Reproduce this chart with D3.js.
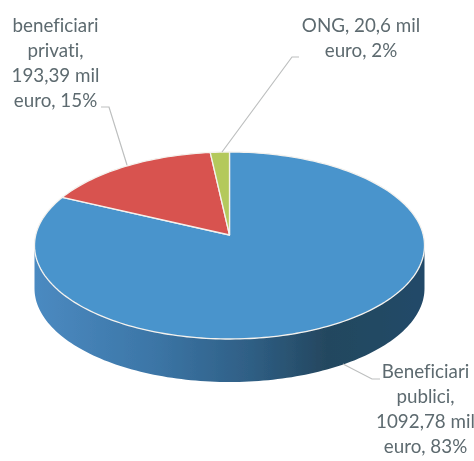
<!DOCTYPE html>
<html>
<head>
<meta charset="utf-8">
<script src="https://cdn.jsdelivr.net/npm/d3@7"></script>
<style>
  html, body { margin: 0; padding: 0; background: #fff; overflow: hidden; }
  svg { display: block; }
</style>
</head>
<body>
<div id="chart"></div>
<script>
// ---- Data ----
const categories = ["Beneficiari publici", "beneficiari privati", "ONG"];
const values = [1092.78, 193.39, 20.6];
const colors = ["#4a94cc", "#d8524f", "#b4c95b"];
const labelLines = [
  ["Beneficiari", "publici,", "1092,78 mil", "euro, 83%"],
  ["beneficiari", "privati,", "193,39 mil", "euro, 15%"],
  ["ONG, 20,6 mil", "euro, 2%"]
];

const width = 474, height = 461;

// tilted pie: ellipse for the rim, apex sits a bit above the centre
const cx = 229.5, cy = 245.5, rx = 195, ry = 93.5;
const apexY = 235, depth = 43;

const svg = d3.select("#chart").append("svg")
  .attr("width", width)
  .attr("height", height);

const defs = svg.append("defs");

const grad = defs.append("linearGradient")
  .attr("id", "wall")
  .attr("gradientUnits", "userSpaceOnUse")
  .attr("x1", cx - rx).attr("x2", cx + rx)
  .attr("y1", 0).attr("y2", 0);
grad.append("stop").attr("offset", "0%").attr("stop-color", "#4b8ac1");
grad.append("stop").attr("offset", "30%").attr("stop-color", "#3c76a7");
grad.append("stop").attr("offset", "55%").attr("stop-color", "#2f5f85");
grad.append("stop").attr("offset", "75%").attr("stop-color", "#24475f");
grad.append("stop").attr("offset", "100%").attr("stop-color", "#234a68");

defs.append("filter").attr("id", "soft")
  .append("feGaussianBlur").attr("stdDeviation", 0.45);

const root = svg.append("g").attr("filter", "url(#soft)");

// ---- Rim helpers ----
const rimX = a => cx + rx * Math.sin(a);
const rimY = a => cy - ry * Math.cos(a);
const rim = d3.line().x(a => rimX(a)).y(a => rimY(a));

const sweep = (a0, a1) => {
  const n = Math.max(2, Math.ceil(Math.abs(a1 - a0) * 40));
  return d3.range(n + 1).map(i => a0 + (a1 - a0) * i / n);
};

// ---- Side wall (front half only) ----
const front = sweep(Math.PI / 2, 3 * Math.PI / 2);
const wallPts = front.map(a => [rimX(a), rimY(a)])
  .concat(front.slice().reverse().map(a => [rimX(a), rimY(a) + depth]));
root.append("path")
  .attr("d", d3.line()(wallPts) + "Z")
  .attr("fill", "url(#wall)");

// ---- Top slices ----
const arcs = d3.pie().sort(null).value(d => d)(values);

root.selectAll("path.slice")
  .data(arcs)
  .join("path")
  .attr("class", "slice")
  .attr("d", d => `M${cx},${apexY}L` + rim(sweep(d.startAngle, d.endAngle)).slice(1) + "Z")
  .attr("fill", (d, i) => colors[i])
  .attr("stroke", "#f4f2ee")
  .attr("stroke-width", 1.3)
  .attr("stroke-linejoin", "round");

// ---- Leader lines ----
const leaders = [
  [[343, 364], [372, 379], [380, 379]],
  [[127, 165], [109, 107], [101, 107]],
  [[222, 152], [292, 57], [299, 57]]
];
root.selectAll("path.leader")
  .data(leaders)
  .join("path")
  .attr("class", "leader")
  .attr("d", d3.line())
  .attr("fill", "none")
  .attr("stroke", "#bdbfbf")
  .attr("stroke-width", 1.2);

// ---- Labels ----
const labelPos = [
  { x: 425.5, y: 378 },
  { x: 55.5, y: 32 },
  { x: 361, y: 32 }
];
const lineStep = 25;

const labels = root.selectAll("text")
  .data(labelLines)
  .join("text")
  .attr("text-anchor", "middle")
  .style("font-family", "Lato, 'Open Sans', sans-serif")
  .style("font-size", "18.8px")
  .style("font-variant-ligatures", "none")
  .style("fill", "#5d6a6f");

labels.selectAll("tspan")
  .data((d, i) => d.map((t, j) => ({ t, x: labelPos[i].x, y: labelPos[i].y + j * lineStep })))
  .join("tspan")
  .attr("x", d => d.x)
  .attr("y", d => d.y)
  .text(d => d.t);
</script>
</body>
</html>
